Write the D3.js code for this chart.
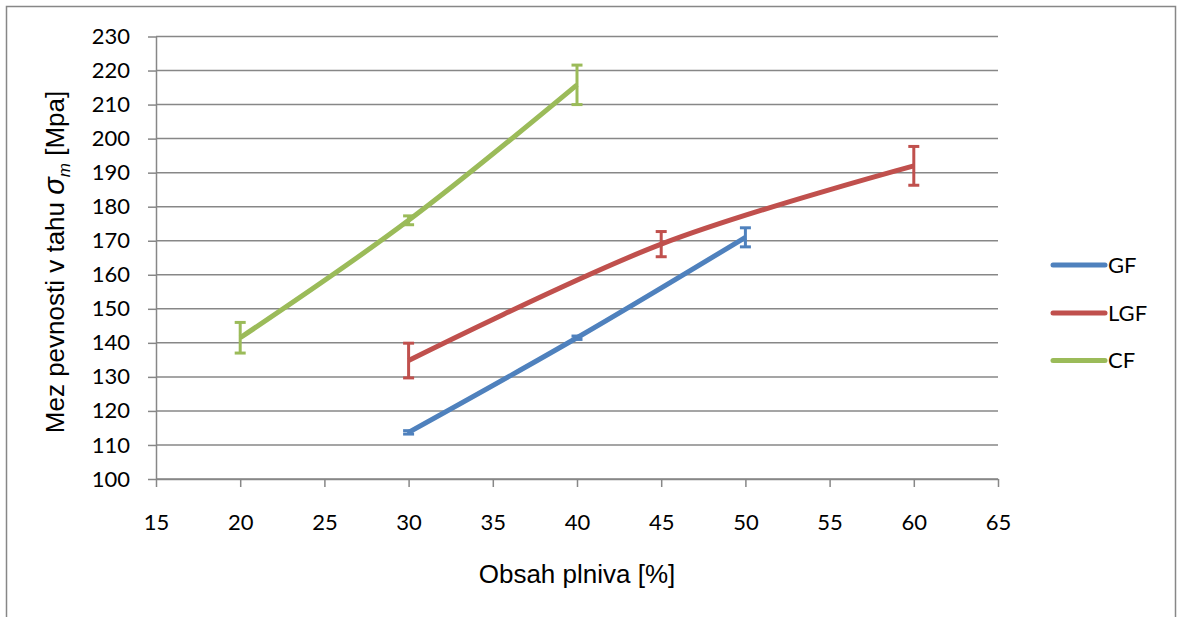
<!DOCTYPE html>
<html>
<head>
<meta charset="utf-8">
<script src="https://cdn.jsdelivr.net/npm/d3@7"></script>
<style>
  body { margin: 0; background: #fff; }
  svg { display: block; }
</style>
</head>
<body>
<svg id="chart" width="1177" height="617"></svg>
<script>
// data
const seriesNames = ["GF", "LGF", "CF"];
const seriesColors = ["#4F81BD", "#C0504D", "#9BBB59"];

const gfX = [30, 40, 50];
const gfY = [113.7, 141.5, 171.0];
const gfErr = [0.5, 0.5, 2.8];

const lgfX = [30, 45, 60];
const lgfY = [134.8, 169.0, 192.0];
const lgfErr = [5.1, 3.7, 5.7];

const cfX = [20, 30, 40];
const cfY = [141.5, 176.0, 215.8];
const cfErr = [4.5, 1.3, 5.8];

const xTicks = [15, 20, 25, 30, 35, 40, 45, 50, 55, 60, 65];
const yTicks = [100, 110, 120, 130, 140, 150, 160, 170, 180, 190, 200, 210, 220, 230];

const series = [
  { name: "GF", xs: gfX, ys: gfY, err: gfErr },
  { name: "LGF", xs: lgfX, ys: lgfY, err: lgfErr },
  { name: "CF", xs: cfX, ys: cfY, err: cfErr }
].map((s, i) => ({ ...s, color: seriesColors[i], pts: s.xs.map((x, j) => ({ x, y: s.ys[j], e: s.err[j] })) }));

const svg = d3.select("#chart");
const tickFont = "Lato, 'Noto Sans', sans-serif";
const titleFont = "'Liberation Sans', Arial, sans-serif";
const gray = "#878787";

// outer frame
svg.append("rect")
  .attr("x", 6.5).attr("y", 6.5)
  .attr("width", 1169).attr("height", 640)
  .attr("fill", "none").attr("stroke", gray).attr("stroke-width", 1.5);

const x = d3.scaleLinear().domain([15, 65]).range([156, 998]);
const y = d3.scaleLinear().domain([100, 230]).range([479, 36.5]);

// gridlines
svg.append("g").selectAll("line")
  .data(yTicks)
  .join("line")
  .attr("x1", x(15)).attr("x2", x(65))
  .attr("y1", d => y(d)).attr("y2", d => y(d))
  .attr("stroke", gray).attr("stroke-width", 1.5);

// y axis
const yAxis = svg.append("g")
  .attr("transform", `translate(${x(15)},0)`)
  .call(d3.axisLeft(y).tickValues(yTicks).tickSize(8).tickPadding(18).tickSizeOuter(0));
// x axis
const xAxis = svg.append("g")
  .attr("transform", `translate(0,${y(100)})`)
  .call(d3.axisBottom(x).tickValues(xTicks).tickSize(8).tickPadding(27).tickSizeOuter(0));

[yAxis, xAxis].forEach(ax => {
  ax.select(".domain").attr("stroke", gray).attr("stroke-width", 1.5);
  ax.selectAll(".tick line").attr("stroke", gray).attr("stroke-width", 1.5);
  ax.selectAll(".tick text")
    .attr("fill", "#000")
    .style("font-family", tickFont)
    .style("font-size", "22px");
});

// smoothed lines
const line = d3.line()
  .x(d => x(d.x))
  .y(d => y(d.y))
  .curve(d3.curveCardinal.tension(0));

series.forEach(s => {
  const g = svg.append("g");
  g.append("path")
    .datum(s.pts)
    .attr("fill", "none")
    .attr("stroke", s.color)
    .attr("stroke-width", 5)
    .attr("d", line);

  // error bars
  const eb = g.selectAll(".eb").data(s.pts).join("g");
  eb.append("line")
    .attr("x1", d => x(d.x)).attr("x2", d => x(d.x))
    .attr("y1", d => y(d.y + d.e)).attr("y2", d => y(d.y - d.e))
    .attr("stroke", s.color).attr("stroke-width", 3);
  [1, -1].forEach(sign => {
    eb.append("line")
      .attr("x1", d => x(d.x) - 5.5).attr("x2", d => x(d.x) + 5.5)
      .attr("y1", d => y(d.y + sign * d.e)).attr("y2", d => y(d.y + sign * d.e))
      .attr("stroke", s.color).attr("stroke-width", 3);
  });
});

// legend
const legend = svg.append("g");
const legY = d3.scaleOrdinal().domain(seriesNames).range([265, 313, 360.5]);
series.forEach(s => {
  legend.append("line")
    .attr("x1", 1053).attr("x2", 1105)
    .attr("y1", legY(s.name)).attr("y2", legY(s.name))
    .attr("stroke", s.color).attr("stroke-width", 5)
    .attr("stroke-linecap", "round");
  legend.append("text")
    .attr("x", 1108).attr("y", legY(s.name))
    .attr("dy", "0.36em")
    .style("font-family", tickFont)
    .style("font-size", "22px")
    .text(s.name);
});

// axis titles
svg.append("text")
  .attr("x", (x(15) + x(65)) / 2)
  .attr("y", 583)
  .attr("text-anchor", "middle")
  .style("font-family", titleFont)
  .style("font-size", "26px")
  .text("Obsah plniva [%]");

const yTitle = svg.append("text")
  .attr("transform", "translate(64,262) rotate(-90)")
  .attr("text-anchor", "middle")
  .style("font-family", titleFont)
  .style("font-size", "26px");
yTitle.append("tspan").text("Mez pevnosti v tahu ");
yTitle.append("tspan").style("font-style", "italic").style("font-size", "29px").text("σ");
yTitle.append("tspan").style("font-style", "italic").style("font-size", "17px").attr("dy", 6).text("m");
yTitle.append("tspan").attr("dy", -6).text(" [Mpa]");
</script>
</body>
</html>
